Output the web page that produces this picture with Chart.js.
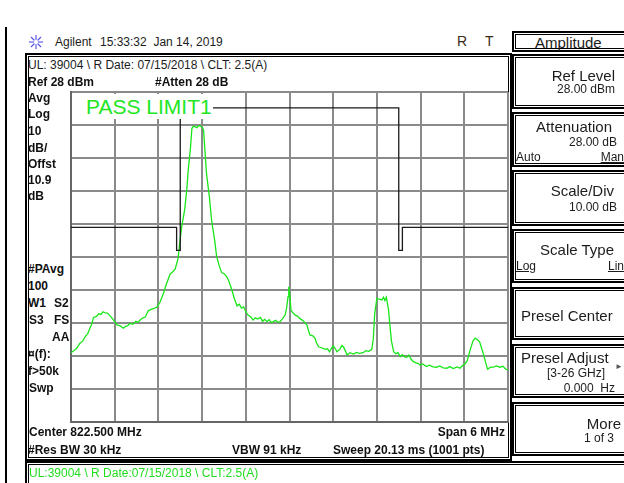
<!DOCTYPE html>
<html>
<head>
<meta charset="utf-8">
<script src="https://cdn.jsdelivr.net/npm/chart.js@4"></script>
<style>
  body { margin: 0; width: 624px; height: 483px; position: relative; overflow: hidden; background: #fff;
         font-family: Arial, "Liberation Sans", sans-serif; color: #1c1c1c; }
  .t { position: absolute; transform: translateY(-50%); white-space: pre; line-height: 1; font-size: 12px; }
  .b { font-weight: bold; color: #111; }
  .k { font-size: 15px; }
  .u { text-decoration: underline; }
  .box { position: absolute; box-sizing: border-box; border: 2px solid #000;
         box-shadow: inset 0 0 0 1px #fff, inset 0 0 0 2px #000; }
  #tela { position: absolute; left: 66px; top: 87px; }
  #pass { position: absolute; left: 73px; top: 94px; width: 140px; height: 25px; background: #fff;
          color: #22e622; font-size: 21px; line-height: 25px; padding-left: 13px; box-sizing: border-box; }
</style>
</head>
<body>
<div style="position:absolute;left:5px;top:27px;width:2px;height:456px;background:#000"></div>

<svg style="position:absolute;left:28px;top:34px" width="16" height="16" viewBox="0 0 16 16">
  <g stroke="#5b5be0" stroke-width="1.2">
    <line x1="8" y1="1" x2="8" y2="15"/><line x1="1" y1="8" x2="15" y2="8"/>
    <line x1="3" y1="3" x2="13" y2="13"/><line x1="13" y1="3" x2="3" y2="13"/>
  </g>
  <circle cx="8" cy="8" r="2.2" fill="#fff"/>
</svg>
<div class="t" style="left:55px;top:42px">Agilent</div>
<div class="t" style="left:100px;top:42px">15:33:32  Jan 14, 2019</div>
<div class="t" style="left:457px;top:41px;font-size:14px;color:#3a2a18">R</div>
<div class="t" style="left:485px;top:41px;font-size:14px;color:#3a2a18">T</div>

<div class="box" style="left:25px;top:53px;width:487px;height:408px"></div>
<div class="box" style="left:25px;top:461px;width:620px;height:30px"></div>

<canvas id="tela" width="447" height="340"></canvas>
<div id="pass">PASS LIMIT1</div>

<div class="t" style="left:28px;top:65px">UL: 39004 \ R Date: 07/15/2018 \ CLT: 2.5(A)</div>
<div class="t b" style="left:28px;top:82px">Ref 28 dBm</div>
<div class="t b" style="left:155px;top:82px">#Atten 28 dB</div>

<div class="t b" style="left:28px;top:98px">Avg</div>
<div class="t b" style="left:28px;top:114px">Log</div>
<div class="t b" style="left:28px;top:131px">10</div>
<div class="t b" style="left:28px;top:148px">dB/</div>
<div class="t b" style="left:28px;top:164px">Offst</div>
<div class="t b" style="left:28px;top:180px">10.9</div>
<div class="t b" style="left:28px;top:196px">dB</div>
<div class="t b" style="left:28px;top:269px">#PAvg</div>
<div class="t b" style="left:28px;top:286px">100</div>
<div class="t b" style="left:28px;top:303px">W1</div>
<div class="t b" style="left:54px;top:303px">S2</div>
<div class="t b" style="left:29px;top:320px">S3</div>
<div class="t b" style="left:54px;top:320px">FS</div>
<div class="t b" style="left:52px;top:337px">AA</div>
<div class="t b" style="left:28px;top:354px">¤(f):</div>
<div class="t b" style="left:28px;top:371px">f&gt;50k</div>
<div class="t b" style="left:29px;top:388px">Swp</div>

<div class="t b" style="left:29px;top:432px">Center 822.500 MHz</div>
<div class="t b" style="right:119px;top:432px">Span 6 MHz</div>
<div class="t b" style="left:28px;top:450px">#Res BW 30 kHz</div>
<div class="t b" style="left:232px;top:450px">VBW 91 kHz</div>
<div class="t b" style="left:333px;top:450px">Sweep 20.13 ms (1001 pts)</div>

<div class="t" style="left:29px;top:473px;color:#22dd22">UL:39004 \ R Date:07/15/2018 \ CLT:2.5(A)</div>

<div class="box" style="left:512px;top:31px;width:130px;height:21px"></div>
<div class="t k" style="left:535px;top:42px">Amplitude</div>

<div class="box" style="left:512px;top:54px;width:130px;height:55px"></div>
<div class="t k" style="right:9px;top:75px">Ref Level</div>
<div class="t" style="right:9px;top:89px">28.00 dBm</div>

<div class="box" style="left:512px;top:112px;width:130px;height:55px"></div>
<div class="t k" style="right:12px;top:126px">Attenuation</div>
<div class="t" style="right:7px;top:142px">28.00 dB</div>
<div class="t" style="left:516px;top:157px">Auto</div>
<div class="t u" style="right:0px;top:157px">Man</div>

<div class="box" style="left:512px;top:170px;width:130px;height:56px"></div>
<div class="t k" style="right:10px;top:190px">Scale/Div</div>
<div class="t" style="right:7px;top:207px">10.00 dB</div>

<div class="box" style="left:512px;top:229px;width:130px;height:54px"></div>
<div class="t k" style="right:10px;top:249px">Scale Type</div>
<div class="t u" style="left:516px;top:266px">Log</div>
<div class="t u" style="right:0px;top:266px">Lin</div>

<div class="box" style="left:512px;top:287px;width:130px;height:53px"></div>
<div class="t k" style="left:521px;top:315px">Presel Center</div>

<div class="box" style="left:512px;top:344px;width:130px;height:54px"></div>
<div class="t k" style="left:521px;top:357px">Presel Adjust</div>
<div class="t" style="right:19px;top:373px">[3-26 GHz]</div>
<div class="t" style="right:1px;top:367px;font-size:8px;color:#555">&#9658;</div>
<div class="t" style="right:9px;top:388px">0.000  Hz</div>

<div class="box" style="left:512px;top:402px;width:130px;height:54px"></div>
<div class="t k" style="right:3px;top:423px">More</div>
<div class="t" style="right:10px;top:438px">1 of 3</div>

<script>
// grade: 10 divisoes de 0.6 MHz e 10 dB
const gradeFreq = [819.5, 820.1, 820.7, 821.3, 821.9, 822.5, 823.1, 823.7, 824.3, 824.9, 825.5];
const gradeNivel = [28, 18, 8, -2, -12, -22, -32, -42, -52, -62, -72];

// linha limite (PASS LIMIT1)
const limiteFreq = [819.5, 820.95, 820.95, 821.0, 821.0, 824.0, 824.0, 824.05, 824.05, 825.5];
const limiteNivel = [-13, -13, -20, -20, 23.2, 23.2, -20, -20, -13, -13];

// traco medido (MHz, dBm)
const tracoFreq = [
  819.50, 819.55, 819.58, 819.62, 819.66, 819.70, 819.73, 819.76, 819.78, 819.81,
  819.85, 819.88, 819.91, 819.94, 819.97, 820.00, 820.04, 820.08, 820.13, 820.17,
  820.22, 820.25, 820.28, 820.31, 820.35, 820.39, 820.42, 820.45, 820.48, 820.52,
  820.56, 820.60, 820.64, 820.68, 820.72, 820.77, 820.81, 820.86, 820.90, 820.93,
  820.97, 821.00, 821.02, 821.06, 821.09, 821.11, 821.14, 821.16, 821.18, 821.20,
  821.23, 821.25, 821.27, 821.30, 821.32, 821.34, 821.36, 821.40, 821.43, 821.47,
  821.50, 821.54, 821.57, 821.60, 821.64, 821.67, 821.71, 821.74, 821.78, 821.81,
  821.84, 821.87, 821.90, 821.93, 821.97, 822.00, 822.03, 822.06, 822.10, 822.13,
  822.16, 822.19, 822.22, 822.25, 822.28, 822.31, 822.34, 822.37, 822.40, 822.44,
  822.46, 822.48, 822.49, 822.50, 822.52, 822.55, 822.58, 822.61, 822.64, 822.68,
  822.71, 822.74, 822.76, 822.78, 822.82, 822.85, 822.87, 822.90, 822.94, 822.99,
  823.02, 823.05, 823.08, 823.10, 823.13, 823.15, 823.19, 823.22, 823.24, 823.27,
  823.29, 823.33, 823.38, 823.42, 823.46, 823.51, 823.55, 823.59, 823.63, 823.65,
  823.67, 823.70, 823.73, 823.77, 823.79, 823.81, 823.83, 823.86, 823.88, 823.90,
  823.93, 823.96, 823.99, 824.02, 824.05, 824.08, 824.11, 824.14, 824.17, 824.20,
  824.24, 824.27, 824.29, 824.33, 824.38, 824.42, 824.47, 824.52, 824.56, 824.61,
  824.66, 824.70, 824.75, 824.80, 824.84, 824.88, 824.91, 824.94, 824.98, 825.02,
  825.05, 825.08, 825.11, 825.14, 825.16, 825.19, 825.22, 825.26, 825.30, 825.34,
  825.39, 825.43, 825.47, 825.50
];
const tracoNivel = [
  -51.0, -50.2, -49.6, -48.2, -47.5, -46.0, -45.2, -43.5, -42.6, -40.3,
  -40.0, -39.2, -39.4, -38.6, -38.9, -39.0, -39.9, -41.0, -42.6, -42.8,
  -43.6, -43.0, -42.8, -42.1, -42.4, -41.5, -41.8, -41.1, -40.5, -40.2,
  -38.3, -37.9, -37.6, -37.2, -35.8, -33.0, -30.2, -27.2, -26.4, -25.7,
  -22.4, -16.5, -12.8, -7.8, -1.5, 4.4, 11.0, 17.0, 17.6, 17.5,
  17.2, 17.8, 17.7, 17.4, 16.5, 10.0, 3.4, -3.8, -10.8, -16.5,
  -21.9, -25.0, -26.8, -27.0, -28.0, -29.5, -32.0, -34.5, -36.8, -36.3,
  -37.5, -37.1, -38.6, -39.6, -40.2, -41.1, -40.4, -40.8, -40.3, -41.5,
  -40.9, -41.6, -41.0, -41.9, -41.6, -41.2, -41.8, -41.6, -40.8, -39.6,
  -37.5, -34.0, -31.0, -32.5, -38.1, -39.0, -39.6, -39.9, -40.6, -41.2,
  -41.8, -42.6, -44.2, -45.6, -45.9, -46.6, -48.0, -49.2, -49.5, -50.0,
  -49.8, -50.7, -49.5, -48.9, -49.8, -50.7, -50.0, -48.8, -49.2, -50.6,
  -51.7, -51.0, -51.4, -50.9, -51.2, -51.0, -50.4, -50.6, -50.0, -47.0,
  -39.1, -34.5, -34.8, -35.0, -34.2, -35.2, -34.2, -38.0, -43.1, -47.5,
  -50.7, -51.3, -51.0, -52.2, -51.6, -52.3, -52.4, -51.7, -53.0, -53.7,
  -54.1, -54.3, -54.7, -54.4, -55.2, -54.8, -55.3, -55.4, -55.0, -55.6,
  -55.7, -55.2, -55.8, -55.3, -55.7, -54.8, -54.4, -53.4, -50.2, -47.4,
  -46.6, -47.1, -47.7, -49.8, -51.2, -53.8, -56.0, -55.4, -55.4, -55.0,
  -55.4, -55.1, -56.0, -56.2
];

const pontos = (xs, ys) => xs.map((x, i) => ({ x: x, y: ys[i] }));

const eixo = (min, max, valores, lado) => ({
  type: 'linear',
  min: min,
  max: max,
  afterBuildTicks: escala => { escala.ticks = valores.map(v => ({ value: v })); },
  afterFit: escala => { if (lado === 'x') escala.height = 0; else escala.width = 0; },
  ticks: { display: false },
  grid: { color: '#8a8a8a', lineWidth: 2, drawTicks: false },
  border: { color: '#666', width: 2 }
});

new Chart(document.getElementById('tela'), {
  type: 'line',
  data: {
    datasets: [
      {
        data: pontos(limiteFreq, limiteNivel),
        borderColor: '#1a1a1a',
        borderWidth: 1.3,
        pointRadius: 0,
        tension: 0
      },
      {
        data: pontos(tracoFreq, tracoNivel),
        borderColor: '#19e619',
        borderWidth: 1.3,
        pointRadius: 0,
        tension: 0
      }
    ]
  },
  options: {
    responsive: false,
    animation: false,
    devicePixelRatio: 1,
    layout: { padding: 5 },
    plugins: { legend: { display: false }, tooltip: { enabled: false } },
    scales: {
      x: eixo(819.5, 825.5, gradeFreq, 'x'),
      y: eixo(-72, 28, gradeNivel, 'y')
    }
  }
});
</script>
</body>
</html>
